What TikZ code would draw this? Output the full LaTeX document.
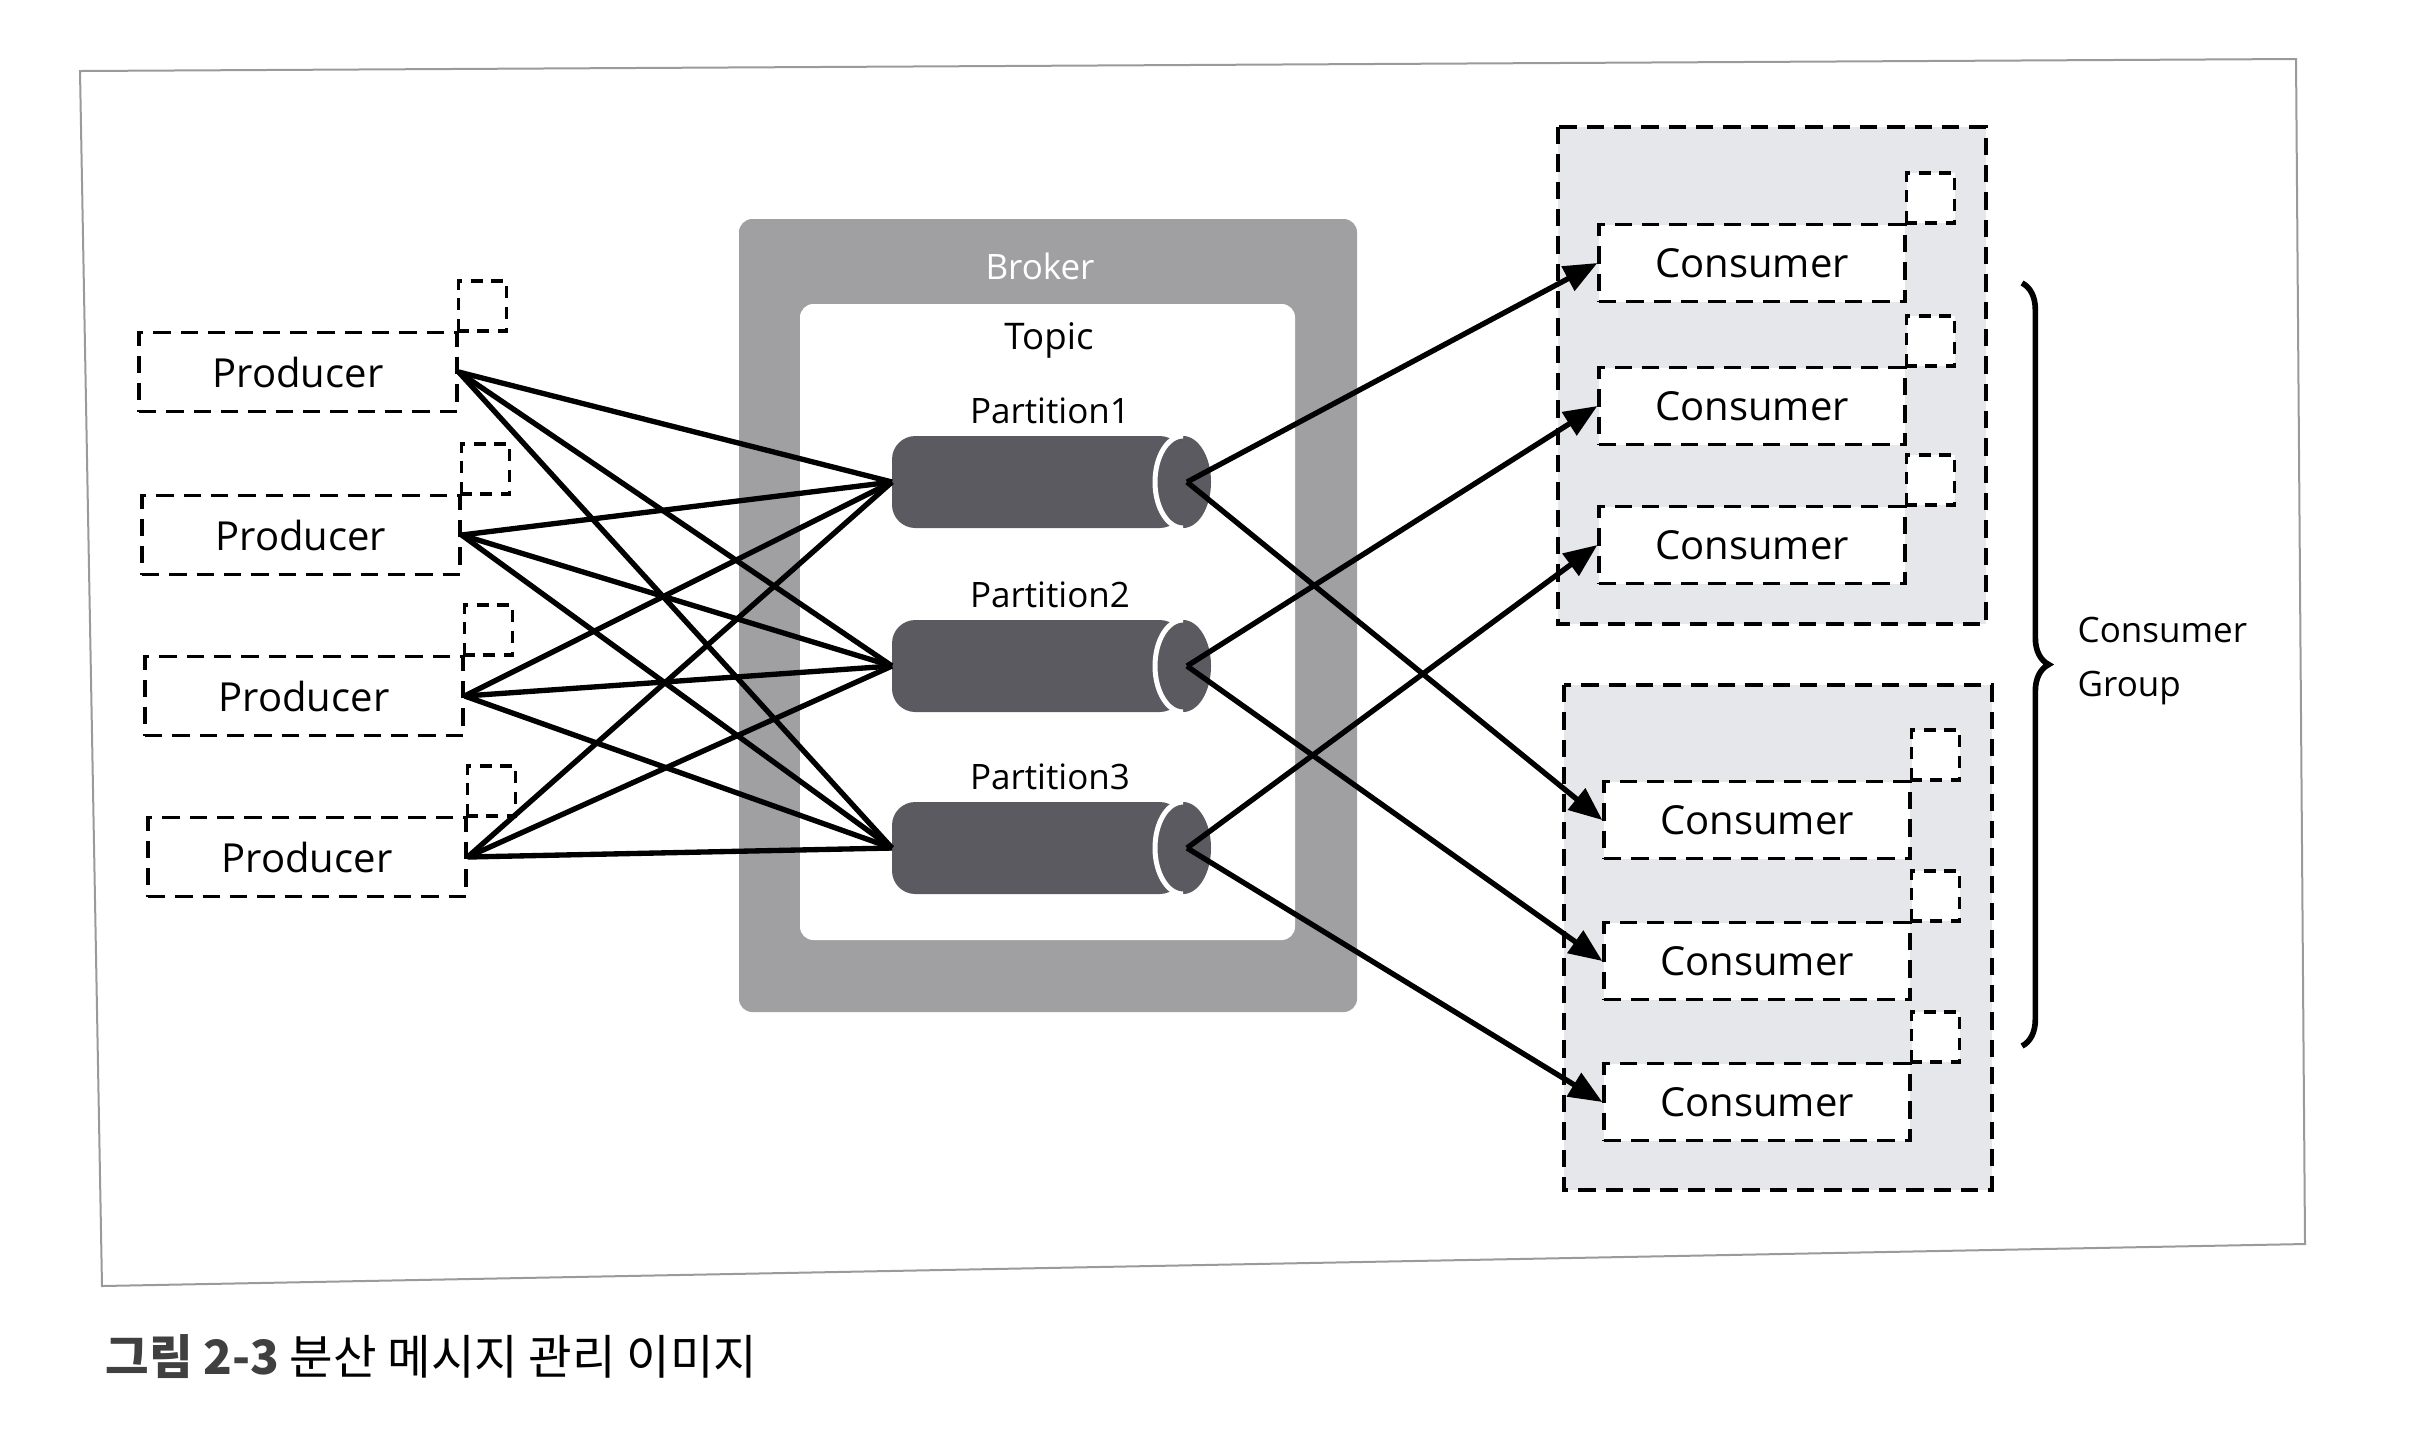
\documentclass[tikz,border=0pt]{standalone}
\usepackage{fontspec}
\setmainfont{Open Sans}
\newfontfamily\krfont{Noto Sans CJK KR}
\usetikzlibrary{arrows.meta,decorations.pathreplacing}
\definecolor{brokergray}{HTML}{A0A0A2}
\definecolor{cylgray}{HTML}{5A5A60}
\definecolor{grpgray}{HTML}{E6E7EA}
\definecolor{framegray}{HTML}{9A9A9A}
\tikzset{
  dashline/.style={draw=black, line width=1pt, dash pattern=on 5.2pt off 3pt},
  prodbox/.style={dashline, fill=white, minimum width=95.4pt, minimum height=23.7pt, inner sep=0pt, font=\fontsize{12}{14}\selectfont},
  consbox/.style={dashline, fill=white, minimum width=91.8pt, minimum height=23.1pt, inner sep=0pt, font=\fontsize{12}{14}\selectfont},
  tinysq/.style={draw=black, line width=1pt, dash pattern=on 3.6pt off 2.6pt, fill=white},
  grpbox/.style={dashline, fill=grpgray},
  conn/.style={draw=black, line width=1.6pt},
  arr/.style={conn, -{Triangle[length=10pt,width=8pt]}},
  lbl/.style={font=\fontsize{10.5}{12}\selectfont, inner sep=0pt},
  cyl/.style={fill=cylgray},
}
\begin{document}
\begin{tikzpicture}[x=0.3pt,y=-0.3pt]
\useasboundingbox (0,0) rectangle (2423,1452);
% outer frame
\draw[framegray, line width=0.6pt] (80,71) -- (2296,59) -- (2305,1244) -- (102,1286) -- cycle;

% broker
\fill[brokergray, rounded corners=4pt] (739,219) rectangle (1357,1012);
\fill[white, rounded corners=4pt] (800,304) rectangle (1295,940);
\node[lbl, text=white] (broker) at (1040,266) {Broker};
\node[lbl, font=\fontsize{11}{12}\selectfont] (topic) at (1049,340) {Topic};

% partitions (cylinders)
\foreach \i/\cy in {1/482, 2/666, 3/848} {
  \fill[cyl, rounded corners=7pt] (892,\cy-46) rectangle (1183,\cy+46);
  \fill[cyl] (1183,\cy) ellipse [x radius=8.4pt, y radius=13.8pt];
  \draw[white, line width=1.5pt] (1183,\cy-46) arc[start angle=90, end angle=270, x radius=8.4pt, y radius=13.8pt];
  \coordinate (in\i) at (892,\cy);
  \coordinate (out\i) at (1187,\cy);
  \node[lbl] (plab\i) at (1050,\cy-71) {Partition\i};
}

% producers
\foreach \i/\x/\y in {1/298/372, 2/301/535, 3/304/696, 4/307/857} {
  \node[prodbox] (p\i) at (\x,\y) {Producer};
  \draw[tinysq] (p\i.north east) rectangle ++(48,-50);
}

% consumer groups
\draw[grpbox] (1558,127) rectangle (1986,624);
\draw[grpbox] (1564,685) rectangle (1992,1190);
\foreach \g/\i/\x/\y in {1/1/1752/263, 1/2/1752/406, 1/3/1752/545, 2/1/1757/820, 2/2/1757/961, 2/3/1757/1102} {
  \node[consbox] (c\g\i) at (\x,\y) {Consumer};
  \draw[tinysq] (c\g\i.north east) rectangle ++(48,-50);
}

% producer -> partition lines
\foreach \i in {1,2,3,4} {
  \foreach \j in {1,2,3} {
    \draw[conn] (p\i.east) -- (in\j);
  }
}

% partition -> consumer arrows
\foreach \j in {1,2,3} {
  \draw[arr] (out\j) -- (c1\j.west);
  \draw[arr] (out\j) -- (c2\j.west);
}

% brace and label
\coordinate (btop) at (2022,283);
\coordinate (bbot) at (2022,1046);
\draw[line width=1.7pt, decorate, decoration={brace, amplitude=8pt}] (btop) -- (bbot);
\node[lbl, anchor=west, align=left, font=\fontsize{10.5}{16}\selectfont] (cg) at (2077,661) {Consumer\\Group};

% caption
\node[anchor=west, inner sep=0pt, font=\fontsize{14.2}{16}\selectfont] (cap) at (105,1357)
  {\krfont\textcolor{black!75}{\bfseries 그림 2-3} 분산 메시지 관리 이미지};
\end{tikzpicture}
\end{document}
